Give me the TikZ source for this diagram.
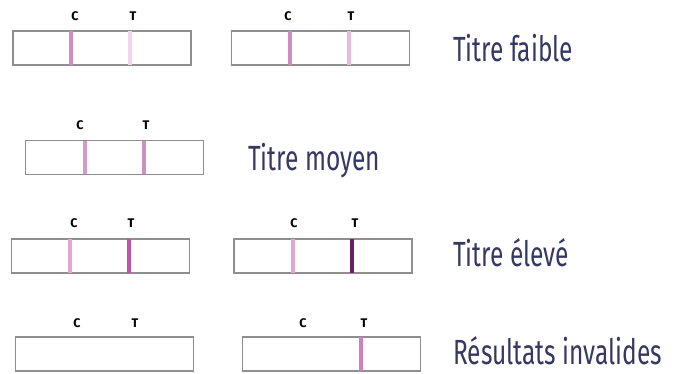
\documentclass[tikz,border=0pt]{standalone}
\usepackage{fontspec}
\setmainfont{Fira Sans}
\newfontfamily\titlefont[FakeStretch=0.70]{Fira Sans}
\newfontfamily\tagfont{Fira Sans}
\definecolor{navy}{HTML}{343862}
\definecolor{frame}{HTML}{8E8E8E}
\definecolor{bandC}{HTML}{D08CC0}
\definecolor{bandCpale}{HTML}{E4A4D4}
\definecolor{bandCmid}{HTML}{D898CC}
\definecolor{faint}{HTML}{F4D4EA}
\definecolor{weak}{HTML}{E8BCDC}
\definecolor{medium}{HTML}{D090C4}
\definecolor{strong}{HTML}{C050A8}
\definecolor{darkest}{HTML}{6C2060}
\definecolor{invalid}{HTML}{D080C0}
\begin{document}
\begin{tikzpicture}[x=1pt,y=-1pt,
strip/.style={draw=frame,line width=1.3pt,minimum width=178pt,minimum height=34pt,inner sep=0pt},
band/.style={line width=4pt,draw=#1},
tag/.style={font=\tagfont\bfseries\fontsize{12.5}{12.5}\selectfont,inner sep=0pt},
result/.style={font=\titlefont\fontsize{35}{35}\selectfont,text=navy,anchor=base west,inner sep=0pt}
]
\useasboundingbox (0,0) rectangle (679,373);
% faible
\node[strip]at(102,48)(f1){};
\node[strip]at(320.5,48)(f2){};
\draw[band=bandC]([xshift=59pt,yshift=-0.7pt]f1.north west)--([xshift=59pt,yshift=0.7pt]f1.south west);
\draw[band=faint]([xshift=118pt,yshift=-0.7pt]f1.north west)--([xshift=118pt,yshift=0.7pt]f1.south west);
\draw[band=bandC]([xshift=59pt,yshift=-0.7pt]f2.north west)--([xshift=59pt,yshift=0.7pt]f2.south west);
\draw[band=weak]([xshift=118pt,yshift=-0.7pt]f2.north west)--([xshift=118pt,yshift=0.7pt]f2.south west);
\node[tag]at(75,16)(f1c){C};
\node[tag]at(133,16)(f1t){T};
\node[tag]at(288,16)(f2c){C};
\node[tag]at(351,16)(f2t){T};
\node[result]at(453,61)(faible){Titre faible};
% moyen
\node[strip]at(114.5,157.5)(m1){};
\draw[band=bandCmid]([xshift=60pt,yshift=-0.7pt]m1.north west)--([xshift=60pt,yshift=0.7pt]m1.south west);
\draw[band=medium]([xshift=119pt,yshift=-0.7pt]m1.north west)--([xshift=119pt,yshift=0.7pt]m1.south west);
\node[tag]at(80,125)(m1c){C};
\node[tag]at(146,125)(m1t){T};
\node[result]at(248,170)(moyen){Titre moyen};
% eleve
\node[strip]at(100.5,256)(e1){};
\node[strip]at(323,256)(e2){};
\draw[band=bandCpale]([xshift=59pt,yshift=-0.7pt]e1.north west)--([xshift=59pt,yshift=0.7pt]e1.south west);
\draw[band=strong]([xshift=118pt,yshift=-0.7pt]e1.north west)--([xshift=118pt,yshift=0.7pt]e1.south west);
\draw[band=bandCpale]([xshift=60pt,yshift=-0.7pt]e2.north west)--([xshift=60pt,yshift=0.7pt]e2.south west);
\draw[band=darkest]([xshift=119pt,yshift=-0.7pt]e2.north west)--([xshift=119pt,yshift=0.7pt]e2.south west);
\node[tag]at(74,223)(e1c){C};
\node[tag]at(131,223)(e1t){T};
\node[tag]at(294,223)(e2c){C};
\node[tag]at(355,223)(e2t){T};
\node[result]at(453,266)(eleve){Titre élevé};
% invalides
\node[strip]at(104.5,354)(i1){};
\node[strip]at(331.5,354)(i2){};
\draw[band=invalid]([xshift=119pt,yshift=-0.7pt]i2.north west)--([xshift=119pt,yshift=0.7pt]i2.south west);
\node[tag]at(77,323)(i1c){C};
\node[tag]at(135,323)(i1t){T};
\node[tag]at(303,323)(i2c){C};
\node[tag]at(364,323)(i2t){T};
\node[result]at(453,364)(invalides){Résultats invalides};
\end{tikzpicture}
\end{document}
